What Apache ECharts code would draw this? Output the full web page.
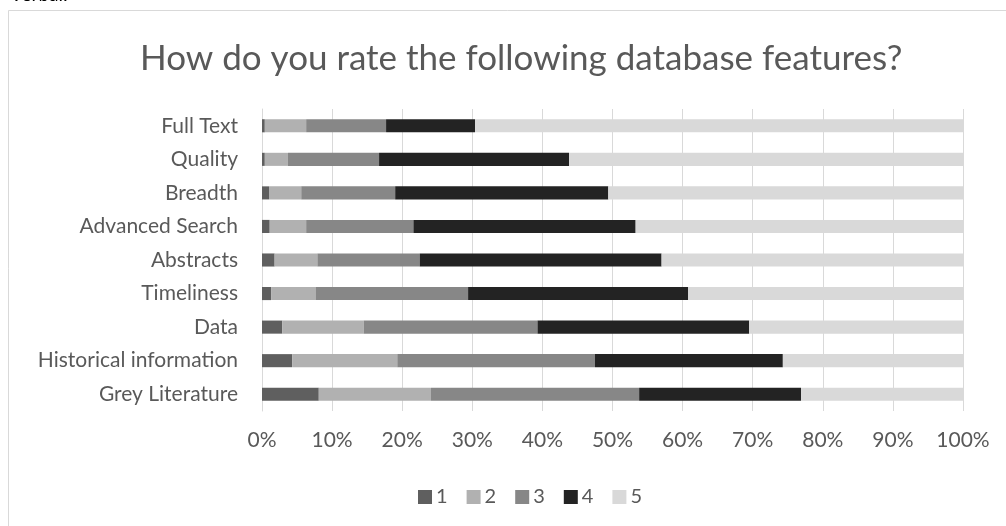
<!DOCTYPE html>
<html>
<head>
<meta charset="utf-8">
<script src="https://cdn.jsdelivr.net/npm/echarts@6/dist/echarts.min.js"></script>
<style>
  html, body { margin: 0; padding: 0; background: #ffffff; }
  #chart { width: 1006px; height: 526px; }
</style>
</head>
<body>
<div id="chart"></div>
<script>
// Features, listed bottom-to-top as drawn on the category axis
const features = ['Grey Literature', 'Historical information', 'Data', 'Timeliness', 'Abstracts',
                  'Advanced Search', 'Breadth', 'Quality', 'Full Text'];

// Share of responses (%) per rating, same order as features
const rating1 = [8.1, 4.3, 2.9, 1.3, 1.8, 1.1, 1.0, 0.4, 0.4];
const rating2 = [16.0, 15.0, 11.6, 6.4, 6.1, 5.2, 4.6, 3.3, 5.9];
const rating3 = [29.7, 28.2, 24.8, 21.7, 14.6, 15.3, 13.4, 13.0, 11.4];
const rating4 = [23.1, 26.8, 30.2, 31.4, 34.5, 31.7, 30.4, 27.1, 12.7];
const rating5 = [23.1, 25.7, 30.5, 39.2, 43.0, 46.7, 50.6, 56.2, 69.6];

const ratingNames = ['1', '2', '3', '4', '5'];
const ratingColors = ['#5f5f5f', '#b1b1b1', '#878787', '#232323', '#d9d9d9'];
const ratingValues = [rating1, rating2, rating3, rating4, rating5];

const textColor = '#595959';
const fontFamily = 'Lato, "Open Sans", sans-serif';

const chart = echarts.init(document.getElementById('chart'), null, { renderer: 'canvas' });

chart.setOption({
  animation: false,
  backgroundColor: '#ffffff',
  textStyle: { fontFamily: fontFamily, color: textColor },
  graphic: [
    {
      type: 'rect',
      shape: { x: 8.5, y: 10.5, width: 1010, height: 530 },
      style: { fill: 'none', stroke: '#d9d9d9', lineWidth: 1 },
      silent: true
    },
    {
      type: 'text',
      left: 10,
      top: -15,
      style: { text: 'Verbal:', fontSize: 19, fill: '#000000', fontFamily: fontFamily }
    }
  ],
  title: {
    text: 'How do you rate the following database features?',
    left: 135,
    top: 36,
    textStyle: { fontSize: 35, fontWeight: 'normal', color: textColor, fontFamily: fontFamily }
  },
  legend: {
    data: ratingNames,
    top: 482,
    left: 413,
    itemWidth: 14,
    itemHeight: 14,
    itemGap: 19,
    icon: 'rect',
    textStyle: { fontSize: 20, color: textColor, fontFamily: fontFamily, padding: [0, 0, 0, -1] }
  },
  grid: { left: 262, right: 43, top: 109, bottom: 115, containLabel: false },
  xAxis: {
    type: 'value',
    min: 0,
    max: 100,
    interval: 10,
    axisLine: { show: false },
    axisTick: { show: false },
    splitLine: { show: true, lineStyle: { color: '#d9d9d9', width: 1 } },
    axisLabel: {
      formatter: '{value}%',
      fontSize: 21,
      color: textColor,
      margin: 19,
      fontFamily: fontFamily
    }
  },
  yAxis: {
    type: 'category',
    data: features,
    axisLine: { show: true, lineStyle: { color: '#d9d9d9', width: 1 } },
    axisTick: { show: false },
    axisLabel: { fontSize: 21, color: textColor, margin: 24, fontFamily: fontFamily }
  },
  series: ratingNames.map((name, i) => ({
    name: name,
    type: 'bar',
    stack: 'total',
    barCategoryGap: '61%',
    data: ratingValues[i],
    itemStyle: { color: ratingColors[i] },
    emphasis: { disabled: true }
  }))
});
</script>
</body>
</html>
